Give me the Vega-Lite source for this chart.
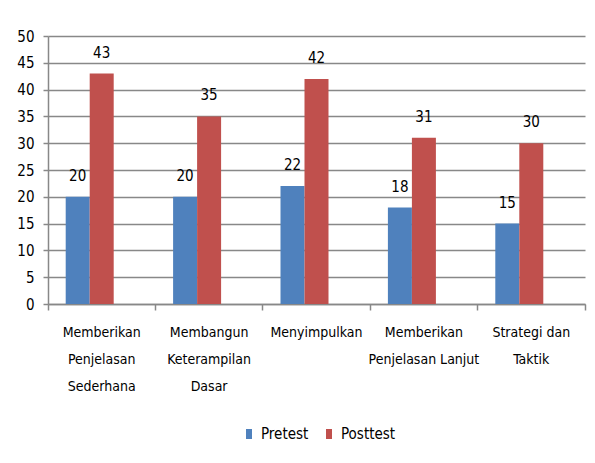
{
  "$schema": "https://vega.github.io/schema/vega-lite/v6.json",
  "autosize": {"type": "none"},
  "padding": {"left": 48, "top": 36, "right": 10, "bottom": 159},
  "width": 537,
  "height": 268,
  "background": "white",
  "config": {
    "view": {"stroke": null},
    "font": "'DejaVu Sans Condensed', sans-serif",
    "axis": {"labelFont": "'DejaVu Sans Condensed', sans-serif", "labelColor": "#000000"},
    "legend": {"labelFont": "'DejaVu Sans Condensed', sans-serif", "labelColor": "#000000"},
    "text": {"font": "'DejaVu Sans Condensed', sans-serif"}
  },
  "data": {
    "values": [
      {"kategori": "Memberikan Penjelasan Sederhana", "tes": "Pretest", "nilai": 20},
      {"kategori": "Memberikan Penjelasan Sederhana", "tes": "Posttest", "nilai": 43},
      {"kategori": "Membangun Keterampilan Dasar", "tes": "Pretest", "nilai": 20},
      {"kategori": "Membangun Keterampilan Dasar", "tes": "Posttest", "nilai": 35},
      {"kategori": "Menyimpulkan", "tes": "Pretest", "nilai": 22},
      {"kategori": "Menyimpulkan", "tes": "Posttest", "nilai": 42},
      {"kategori": "Memberikan Penjelasan Lanjut", "tes": "Pretest", "nilai": 18},
      {"kategori": "Memberikan Penjelasan Lanjut", "tes": "Posttest", "nilai": 31},
      {"kategori": "Strategi dan Taktik", "tes": "Pretest", "nilai": 15},
      {"kategori": "Strategi dan Taktik", "tes": "Posttest", "nilai": 30}
    ]
  },
  "encoding": {
    "x": {
      "field": "kategori",
      "type": "nominal",
      "sort": null,
      "scale": {"paddingInner": 0, "paddingOuter": 0},
      "axis": {
        "title": null,
        "labelAngle": 0,
        "labelFontSize": 14,
        "labelLineHeight": 27,
        "labelPadding": 15,
        "labelBaseline": "top",
        "domainColor": "#888888",
        "domainWidth": 1.5,
        "tickColor": "#888888",
        "tickWidth": 1.5,
        "tickSize": 6,
        "bandPosition": 1,
        "tickExtra": true,
        "grid": false,
        "labelExpr": "datum.label == 'Memberikan Penjelasan Sederhana' ? ['Memberikan', 'Penjelasan', 'Sederhana'] : datum.label == 'Membangun Keterampilan Dasar' ? ['Membangun', 'Keterampilan', 'Dasar'] : datum.label == 'Memberikan Penjelasan Lanjut' ? ['Memberikan', 'Penjelasan Lanjut'] : datum.label == 'Strategi dan Taktik' ? ['Strategi dan', 'Taktik'] : datum.label"
      }
    },
    "xOffset": {
      "field": "tes",
      "type": "nominal",
      "scale": {"domain": ["Pretest", "Posttest", "_"], "paddingInner": 0, "paddingOuter": 0.7375}
    },
    "y": {
      "field": "nilai",
      "type": "quantitative",
      "scale": {"domain": [0, 50], "nice": false},
      "axis": {
        "title": null,
        "values": [0, 5, 10, 15, 20, 25, 30, 35, 40, 45, 50],
        "labelFontSize": 15,
        "labelPadding": 9,
        "grid": true,
        "gridColor": "#888888",
        "gridWidth": 1.5,
        "domainColor": "#888888",
        "domainWidth": 1.5,
        "tickColor": "#888888",
        "tickWidth": 1.5,
        "tickSize": 5
      }
    }
  },
  "layer": [
    {
      "mark": {"type": "bar"},
      "encoding": {
        "color": {
          "field": "tes",
          "type": "nominal",
          "scale": {"domain": ["Pretest", "Posttest"], "range": ["#4F81BD", "#C0504D"]},
          "legend": {
            "title": null,
            "orient": "none",
            "direction": "horizontal",
            "legendX": 191,
            "legendY": 388,
            "labelFontSize": 15,
            "symbolType": "M-0.3,-0.5H0.3V0.5H-0.3Z",
            "symbolSize": 400,
            "symbolStrokeWidth": 0,
            "symbolOpacity": 1,
            "columnPadding": 10,
            "labelOffset": 2
          }
        }
      }
    },
    {
      "mark": {"type": "text", "baseline": "alphabetic", "dy": -16, "fontSize": 15, "color": "#000000"},
      "encoding": {"text": {"field": "nilai", "type": "quantitative"}}
    }
  ]
}
